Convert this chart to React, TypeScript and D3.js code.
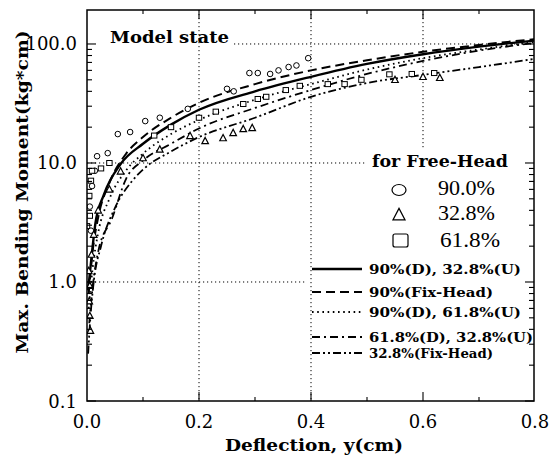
import React from 'react';
import * as d3 from 'd3';

const W = 551;
const H = 458;

const xTicks = [0, 0.2, 0.4, 0.6, 0.8];
const xTickLabels = ['0.0', '0.2', '0.4', '0.6', '0.8'];
const yTicks = [0.1, 1, 10, 100];
const yTickLabels = ['0.1', '1.0', '10.0', '100.0'];

// curves: [deflection (cm), max bending moment (kg*cm)]
const line90D328U: [number, number][] = [
  [0.002, 0.85], [0.006, 1.3], [0.015, 3.1], [0.03, 5.4], [0.06, 9.8], [0.1, 14.5],
  [0.15, 21], [0.2, 28], [0.3, 40], [0.4, 53], [0.5, 68], [0.6, 82], [0.7, 95], [0.8, 107],
];
const line90Fix: [number, number][] = [
  [0.003, 0.8], [0.01, 1.8], [0.02, 3.5], [0.04, 6.8], [0.07, 12], [0.1, 16.5],
  [0.15, 24], [0.2, 32], [0.3, 46], [0.4, 60], [0.5, 73], [0.6, 86], [0.7, 98], [0.8, 110],
];
const line90D618U: [number, number][] = [
  [0.003, 0.6], [0.01, 1.3], [0.02, 2.6], [0.04, 5.0], [0.07, 8.7], [0.1, 12],
  [0.15, 17.5], [0.2, 23], [0.3, 34], [0.4, 46], [0.5, 61], [0.6, 76], [0.7, 90], [0.8, 104],
];
const line618D328U: [number, number][] = [
  [0.004, 0.45], [0.01, 0.9], [0.02, 1.8], [0.045, 3.45], [0.07, 7.4], [0.1, 10.5],
  [0.15, 14.5], [0.2, 19.5], [0.3, 29], [0.4, 41], [0.5, 56], [0.6, 72], [0.7, 88], [0.8, 102],
];
const line328Fix: [number, number][] = [
  [0.002, 0.25], [0.006, 0.5], [0.012, 1.0], [0.025, 2.0], [0.05, 4.2], [0.08, 7],
  [0.1, 8.8], [0.15, 12.5], [0.2, 16.5], [0.3, 24], [0.4, 36], [0.5, 47], [0.6, 55],
  [0.7, 64], [0.8, 75],
];

// Free-head measured points
const circles90: [number, number][] = [
  [0.007, 2.7], [0.005, 4.3], [0.009, 6.4], [0.014, 8.6], [0.018, 11.4], [0.037, 12.1],
  [0.055, 17.5], [0.077, 18.2], [0.104, 22.5], [0.13, 24], [0.18, 28.5], [0.25, 42],
  [0.262, 40], [0.29, 57], [0.305, 57], [0.327, 56], [0.342, 60], [0.36, 64], [0.374, 66],
  [0.395, 76],
];
const triangles328: [number, number][] = [
  [0.003, 1.24], [0.005, 0.93], [0.004, 0.69], [0.005, 0.52], [0.006, 0.39],
  [0.008, 1.7], [0.012, 2.5], [0.02, 4], [0.04, 6], [0.06, 8.5], [0.1, 11], [0.13, 13],
  [0.184, 16.9], [0.211, 15.3], [0.243, 16.2], [0.261, 17.9], [0.279, 19.3], [0.295, 19.7],
  [0.55, 50], [0.6, 53], [0.63, 52],
];
const squares618: [number, number][] = [
  [0.0, 2.95], [0.005, 3.6], [0.004, 5.3], [0.007, 7.1], [0.009, 8.6], [0.025, 9], [0.04, 10],
  [0.12, 17], [0.15, 20], [0.2, 24], [0.23, 27], [0.279, 31.3], [0.305, 34.5], [0.32, 36],
  [0.355, 41], [0.38, 44.5], [0.43, 46], [0.46, 46], [0.49, 50], [0.54, 55.6], [0.58, 56], [0.62, 57],
];

const lineSeries = [
  { name: '90%(D), 32.8%(U)', data: line90D328U, dash: 'none', width: 2.4 },
  { name: '90%(Fix-Head)', data: line90Fix, dash: '9,5', width: 2 },
  { name: '90%(D), 61.8%(U)', data: line90D618U, dash: '1.6,3.6', width: 1.8 },
  { name: '61.8%(D), 32.8%(U)', data: line618D328U, dash: '8,4,2,4', width: 1.8 },
  { name: '32.8%(Fix-Head)', data: line328Fix, dash: '8,3,2,3,2,3', width: 1.8 },
];

const SERIF = '"DejaVu Serif", serif';
const TIMES = '"Liberation Serif", "Times New Roman", Times, serif';

export default function App() {
  const x = d3.scaleLinear().domain([0, 0.8]).range([87, 535]);
  const y = d3.scaleLog().domain([0.1, 193]).range([401, 10]);
  const L = 87, R = 534, T = 10, B = 401;

  const line = d3
    .line<[number, number]>()
    .x((d) => x(d[0]))
    .y((d) => y(d[1]))
    .curve(d3.curveMonotoneX);

  const yMinor: { v: number; major: boolean }[] = [];
  for (let d = -1; d <= 2; d++) {
    for (let k = 1; k <= 9; k++) {
      const v = k * Math.pow(10, d);
      if (v >= 0.1 && v <= 193) yMinor.push({ v, major: k === 1 });
    }
  }
  const xMinor = d3.range(1, 8).map((i) => ({ v: i / 10, major: i % 2 === 0 }));

  const tri = (cx: number, cy: number, s: number) =>
    `M${cx},${cy - s * 0.6} L${cx + s * 0.55},${cy + s * 0.45} L${cx - s * 0.55},${cy + s * 0.45} Z`;

  const grid = { stroke: '#000', strokeWidth: 1, strokeDasharray: '1.2,2.8' };

  return (
    <svg width={W} height={H} style={{ position: 'absolute', left: 0, top: 0, background: '#fff' }}>
      <rect x={0} y={0} width={W} height={H} fill="#fff" />
      <defs>
        <clipPath id="plot">
          <rect x={L} y={T} width={R - L} height={B - T} />
        </clipPath>
      </defs>

      {/* grid lines */}
      <line x1={234} x2={R} y1={y(100)} y2={y(100)} style={grid} />
      <line x1={L} x2={366} y1={y(10)} y2={y(10)} style={grid} />
      <line x1={L} x2={305} y1={y(1)} y2={y(1)} style={grid} />
      <line x1={x(0.2)} x2={x(0.2)} y1={T} y2={B} style={grid} />
      <line x1={x(0.4)} x2={x(0.4)} y1={T} y2={B} style={grid} />
      <line x1={x(0.6)} x2={x(0.6)} y1={T} y2={150} style={grid} />

      {/* curves */}
      <g clipPath="url(#plot)">
        {lineSeries.map((s) => (
          <path
            key={s.name}
            d={line(s.data) || ''}
            fill="none"
            stroke="#000"
            strokeWidth={s.width}
            strokeDasharray={s.dash}
          />
        ))}
        {circles90.map((d, i) => (
          <circle key={'c' + i} cx={x(d[0])} cy={y(d[1])} r={2.8} fill="#fff" stroke="#000" strokeWidth={1} />
        ))}
        {triangles328.map((d, i) => (
          <path key={'t' + i} d={tri(x(d[0]), y(d[1]), 6)} fill="#fff" stroke="#000" strokeWidth={1.2} />
        ))}
        {squares618.map((d, i) => (
          <rect key={'s' + i} x={x(d[0]) - 2.7} y={y(d[1]) - 2.5} width={5.4} height={5} fill="#fff" stroke="#000" strokeWidth={1} />
        ))}
      </g>

      {/* frame */}
      <rect x={L} y={T} width={R - L} height={B - T} fill="none" stroke="#000" strokeWidth={1.5} />

      {/* y ticks */}
      {yMinor.map((t, i) => {
        const len = t.major ? 9 : 5;
        const yy = y(t.v);
        return (
          <g key={'yt' + i}>
            <line x1={L} x2={L + len} y1={yy} y2={yy} stroke="#000" strokeWidth={1.1} />
            <line x1={R} x2={R - len} y1={yy} y2={yy} stroke="#000" strokeWidth={1.1} />
          </g>
        );
      })}
      {/* x ticks */}
      {xMinor.map((t, i) => {
        const len = t.major ? 9 : 4;
        const xx = x(t.v);
        return (
          <g key={'xt' + i}>
            <line x1={xx} x2={xx} y1={B} y2={B - len} stroke="#000" strokeWidth={1.1} />
            <line x1={xx} x2={xx} y1={T} y2={T + len} stroke="#000" strokeWidth={1.1} />
          </g>
        );
      })}

      {/* tick labels */}
      {xTicks.map((v, i) => (
        <text key={'xl' + i} x={x(v)} y={428} textAnchor="middle" fontFamily={SERIF} fontSize={18} fill="#000">
          {xTickLabels[i]}
        </text>
      ))}
      {yTicks.map((v, i) => (
        <text key={'yl' + i} x={77} y={y(v) + 6.5} textAnchor="end" fontFamily={SERIF} fontSize={18} fill="#000">
          {yTickLabels[i]}
        </text>
      ))}

      {/* axis titles */}
      <text x={314} y={451} textAnchor="middle" fontFamily={SERIF} fontWeight="bold" fontSize={16} textLength={178} lengthAdjust="spacingAndGlyphs" fill="#000">
        Deflection, y(cm)
      </text>
      <text transform="translate(28,192) rotate(-90)" textAnchor="middle" fontFamily={SERIF} fontWeight="bold" fontSize={16} textLength={323} lengthAdjust="spacingAndGlyphs" fill="#000">
        Max. Bending Moment(kg*cm)
      </text>

      {/* title inside */}
      <text x={110} y={43} fontFamily={SERIF} fontWeight="bold" fontSize={17} textLength={119} lengthAdjust="spacingAndGlyphs" fill="#000">
        Model state
      </text>

      {/* legend: markers */}
      <text x={372} y={167} fontFamily={SERIF} fontWeight="bold" fontSize={17} textLength={136} lengthAdjust="spacingAndGlyphs" fill="#000">
        for Free-Head
      </text>
      <ellipse cx={399} cy={190} rx={7} ry={5.5} fill="#fff" stroke="#000" strokeWidth={1.2} />
      <text x={438} y={195} fontFamily={TIMES} fontSize={21} textLength={57} lengthAdjust="spacingAndGlyphs" fill="#000">90.0%</text>
      <path d={tri(399, 215, 11)} fill="#fff" stroke="#000" strokeWidth={1.2} />
      <text x={438} y={220} fontFamily={TIMES} fontSize={21} textLength={57} lengthAdjust="spacingAndGlyphs" fill="#000">32.8%</text>
      <rect x={393} y={234} width={15} height={13} rx={2} fill="#fff" stroke="#000" strokeWidth={1.2} />
      <text x={440} y={247} fontFamily={TIMES} fontSize={21} textLength={60} lengthAdjust="spacingAndGlyphs" fill="#000">61.8%</text>

      {/* legend: lines */}
      {lineSeries.map((s, i) => {
        const ly = [269, 292, 312, 337, 353][i];
        const tl = [152, 124, 152, 164, 124][i];
        return (
          <g key={'lg' + i}>
            <line x1={312} x2={362} y1={ly} y2={ly} stroke="#000" strokeWidth={s.width} strokeDasharray={s.dash} />
            <text
              x={369}
              y={ly + 4.5}
              fontFamily={SERIF}
              fontWeight="bold"
              fontSize={12.5}
              fill="#000"
              textLength={tl}
              lengthAdjust="spacingAndGlyphs"
            >
              {s.name}
            </text>
          </g>
        );
      })}
    </svg>
  );
}
